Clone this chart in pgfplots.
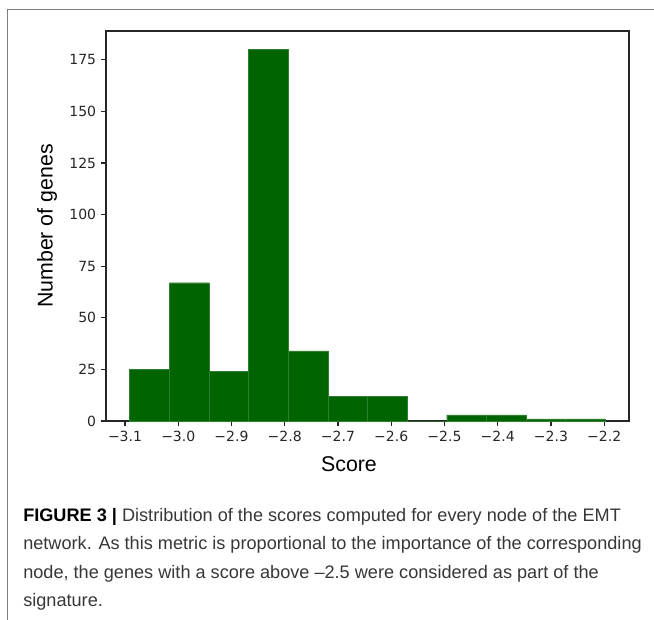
\documentclass[border=0pt]{standalone}
\usepackage{fontspec}
\setmainfont{Liberation Sans}
\newfontfamily\dejavu{DejaVu Sans}
\usepackage{pgfplots}
\pgfplotsset{compat=1.18}
\definecolor{bargreen}{RGB}{0,100,0}
\definecolor{baredge}{RGB}{50,125,50}
\definecolor{captiongray}{RGB}{55,55,55}
\definecolor{framegray}{RGB}{125,125,125}

\begin{document}
\begin{tikzpicture}
\useasboundingbox (0,0) rectangle (490.5pt,464.25pt);
% panel frame
\draw[framegray, line width=1.1pt] (5.625pt,-2pt) -- (5.625pt,457.125pt) -- (495pt,457.125pt);
\begin{axis}[
  at={(79.5pt,148.5pt)}, anchor=south west,
  width=392.25pt, height=292.5pt, scale only axis,
  xmin=-3.1357, xmax=-2.1534, ymin=0, ymax=189,
  axis line style={line width=0.85pt, black!85},
  tick align=outside, xtick pos=bottom, ytick pos=left,
  major tick length=3.85pt,
  tick style={line width=0.85pt, black!85},
  xtick={-3.1,-3.0,-2.9,-2.8,-2.7,-2.6,-2.5,-2.4,-2.3,-2.2},
  xticklabels={−3.1,−3.0,−2.9,−2.8,−2.7,−2.6,−2.5,−2.4,−2.3,−2.2},
  ytick={0,25,50,75,100,125,150,175},
  yticklabels={0,25,50,75,100,125,150,175},
  ticklabel style={font=\dejavu\fontsize{10.5}{12}\selectfont, text=black!85},
  xlabel={Score}, ylabel={Number of genes},
  label style={font=\fontsize{16}{19}\selectfont},
  xlabel style={at={(axis description cs:0.4646,-0.110)}, anchor=center},
  ylabel style={at={(axis description cs:-0.1128,0.5)}, anchor=center},
]
% histogram of scores, 12 equal bins
\addplot[ybar interval, fill=bargreen, draw=baredge, line width=0.3pt] coordinates {
  (-3.09130,25) (-3.01686,67) (-2.94241,24) (-2.86797,180)
  (-2.79352,34) (-2.71908,12) (-2.64463,12) (-2.57019,0)
  (-2.49574,3)  (-2.42130,3)  (-2.34686,1)  (-2.27241,1)
  (-2.19797,1)
};
\end{axis}
% caption
\begin{scope}[every node/.style={anchor=base west, inner sep=0pt, font=\fontsize{13.6}{16}\selectfont, text=captiongray}]
\node at (17.25pt,73.5pt) {{\bfseries\color{black}FIGURE 3 |} Distribution of the scores computed for every node of the EMT};
\node at (17.25pt,52.1pt) {network. As this metric is proportional to the importance of the corresponding};
\node at (17.25pt,30.75pt) {node, the genes with a score above –2.5 were considered as part of the};
\node at (17.25pt,9.4pt) {signature.};
\end{scope}
\end{tikzpicture}
\end{document}
